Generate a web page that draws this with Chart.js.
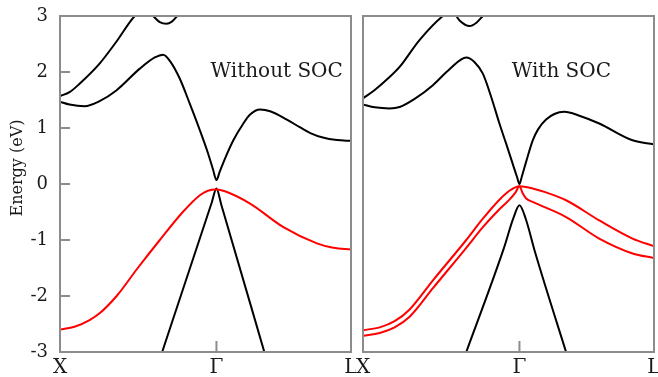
<!DOCTYPE html>
<html>
<head>
<meta charset="utf-8">
<script src="https://cdn.jsdelivr.net/npm/chart.js@4.4.1/dist/chart.umd.min.js"></script>
<style>
  body { margin: 0; background: #fff; }
  canvas { position: absolute; top: 0; }
  #chartNoSoc { left: 0; }
  #chartSoc { left: 356px; }
</style>
</head>
<body>
<canvas id="chartNoSoc" width="356" height="377"></canvas>
<canvas id="chartSoc" width="302" height="377"></canvas>
<script>
// k-path: X -> Gamma -> L
const kTickValues = [0, 1, 1.86];
const kTickLabels = ['X', 'Γ', 'L'];
const energyMin = -3;
const energyMax = 3;

// ---- Without SOC ----
const noSocCb2K = [0, 0.061, 0.125, 0.253, 0.36, 0.478, 0.542, 0.595, 0.638, 0.681, 0.715, 0.749, 0.798];
const noSocCb2E = [1.57, 1.64, 1.79, 2.15, 2.54, 3.0, 3.12, 3.0, 2.89, 2.86, 2.9, 3.0, 3.15];

const noSocCb1K = [0, 0.061, 0.157, 0.253, 0.36, 0.51, 0.606, 0.659, 0.702, 0.766, 0.83, 0.894, 0.946, 0.978, 1.0, 1.021, 1.054, 1.108, 1.172, 1.215, 1.279, 1.343, 1.45, 1.535, 1.6, 1.68, 1.77, 1.862];
const noSocCb1E = [1.47, 1.42, 1.39, 1.48, 1.67, 2.06, 2.26, 2.31, 2.2, 1.88, 1.43, 0.96, 0.55, 0.26, 0.07, 0.22, 0.45, 0.78, 1.08, 1.24, 1.33, 1.30, 1.15, 1.01, 0.91, 0.83, 0.785, 0.77];

const noSocVbRedK = [0, 0.093, 0.189, 0.253, 0.362, 0.497, 0.638, 0.785, 0.894, 0.946, 1.0, 1.054, 1.215, 1.428, 1.642, 1.747, 1.862];
const noSocVbRedE = [-2.60, -2.55, -2.43, -2.31, -2.0, -1.5, -1.0, -0.5, -0.2, -0.12, -0.10, -0.13, -0.35, -0.77, -1.06, -1.14, -1.17];

const noSocVbK = [0.55, 0.653, 0.97, 1.0, 1.03, 1.306, 1.4];
const noSocVbE = [-3.87, -3.0, -0.33, -0.08, -0.36, -3.0, -3.9];

// ---- With SOC ----
const socCb2K = [0, 0.075, 0.17, 0.234, 0.361, 0.51, 0.566, 0.617, 0.681, 0.725, 0.766, 0.808];
const socCb2E = [1.53, 1.68, 1.91, 2.09, 2.57, 3.0, 3.1, 2.92, 2.82, 2.88, 3.0, 3.12];

const socCb1K = [0, 0.075, 0.17, 0.234, 0.33, 0.445, 0.553, 0.66, 0.712, 0.766, 0.82, 0.872, 0.915, 0.957, 0.985, 1.0, 1.015, 1.043, 1.085, 1.12, 1.17, 1.223, 1.287, 1.383, 1.51, 1.723, 1.857];
const socCb1E = [1.42, 1.37, 1.35, 1.375, 1.52, 1.76, 2.05, 2.26, 2.18, 1.97, 1.55, 1.08, 0.72, 0.36, 0.12, 0.0, 0.13, 0.4, 0.78, 0.98, 1.15, 1.25, 1.29, 1.22, 1.08, 0.78, 0.71];

const socVbUpK = [0, 0.107, 0.202, 0.298, 0.447, 0.66, 0.766, 0.872, 0.936, 1.0, 1.085, 1.17, 1.298, 1.51, 1.723, 1.857];
const socVbUpE = [-2.61, -2.56, -2.45, -2.24, -1.72, -1.0, -0.62, -0.28, -0.12, -0.04, -0.08, -0.15, -0.29, -0.65, -0.975, -1.11];

const socVbLoK = [0, 0.107, 0.202, 0.298, 0.447, 0.66, 0.766, 0.872, 0.936, 0.975, 1.0, 1.02, 1.043, 1.085, 1.298, 1.51, 1.723, 1.857];
const socVbLoE = [-2.71, -2.66, -2.56, -2.37, -1.86, -1.14, -0.77, -0.45, -0.28, -0.15, -0.04, -0.16, -0.26, -0.32, -0.59, -0.975, -1.24, -1.32];

const socVbK = [0.6, 0.66, 0.9, 0.96, 1.0, 1.04, 1.1, 1.298, 1.36];
const socVbE = [-3.46, -3.0, -1.15, -0.62, -0.38, -0.62, -1.22, -3.0, -3.55];

const FONT = '"DejaVu Serif", "Liberation Serif", serif';

function band(k, e, color) {
    return {
        data: k.map((x, i) => ({x: x, y: e[i]})),
        borderColor: color,
        borderWidth: 2,
        pointRadius: 0,
        showLine: true,
        fill: false,
        cubicInterpolationMode: 'monotone'
    };
}

// frame, inward ticks and panel text
const framePlugin = {
    id: 'frame',
    afterDatasetsDraw(chart, args, opts) {
        const ctx = chart.ctx;
        const a = chart.chartArea;
        const xs = chart.scales.x, ys = chart.scales.y;
        ctx.save();
        ctx.strokeStyle = '#8c8c8c';
        ctx.lineWidth = 2;
        ctx.beginPath();
        if (opts.yTicks) {
            ys.ticks.forEach(t => {
                const y = ys.getPixelForValue(t.value);
                ctx.moveTo(a.left, y);
                ctx.lineTo(a.left + 10, y);
            });
        }
        const gx = xs.getPixelForValue(kTickValues[1]);
        ctx.moveTo(gx, a.bottom);
        ctx.lineTo(gx, a.bottom - 11);
        ctx.stroke();
        ctx.strokeRect(a.left, a.top, a.right - a.left, a.bottom - a.top);

        ctx.fillStyle = '#1a1a1a';
        ctx.font = '20px ' + FONT;
        ctx.textAlign = 'center';
        ctx.textBaseline = 'middle';
        ctx.fillText(opts.label, xs.getPixelForValue(opts.labelK), ys.getPixelForValue(opts.labelE));

        if (opts.yTitle) {
            ctx.translate(18, 168);
            ctx.rotate(-Math.PI / 2);
            ctx.font = '16px ' + FONT;
            ctx.fillText(opts.yTitle, 0, 0);
        }
        ctx.restore();
    }
};

function createChart(id, datasets, opts) {
    return new Chart(document.getElementById(id), {
        type: 'scatter',
        data: {datasets: datasets},
        plugins: [framePlugin],
        options: {
            responsive: false,
            animation: false,
            layout: {padding: {top: 16, right: opts.padRight, left: 0, bottom: 0}},
            plugins: {
                legend: {display: false},
                tooltip: {enabled: false},
                frame: opts.frame
            },
            scales: {
                x: {
                    type: 'linear',
                    min: 0,
                    max: kTickValues[2],
                    grid: {display: false, drawTicks: false},
                    border: {display: false},
                    afterBuildTicks: s => { s.ticks = kTickValues.map(v => ({value: v})); },
                    afterFit: s => { s.height = 25; s.paddingLeft = 0; s.paddingRight = 0; },
                    ticks: {
                        autoSkip: false,
                        maxRotation: 0,
                        padding: 4,
                        color: '#1a1a1a',
                        font: {family: FONT, size: 20},
                        callback: (v, i) => kTickLabels[i]
                    }
                },
                y: {
                    min: energyMin,
                    max: energyMax,
                    grid: {display: false, drawTicks: false},
                    border: {display: false},
                    afterFit: s => { s.width = opts.yWidth; s.paddingTop = 0; s.paddingBottom = 0; },
                    ticks: {
                        display: opts.yLabels,
                        stepSize: 1,
                        padding: 12,
                        color: '#1a1a1a',
                        font: {family: FONT, size: 18}
                    }
                }
            }
        }
    });
}

createChart('chartNoSoc', [
    band(noSocVbRedK, noSocVbRedE, '#ff0000'),
    band(noSocVbK, noSocVbE, '#000000'),
    band(noSocCb1K, noSocCb1E, '#000000'),
    band(noSocCb2K, noSocCb2E, '#000000')
], {
    padRight: 5, yWidth: 60, yLabels: true,
    frame: {yTicks: true, label: 'Without SOC', labelK: 1.385, labelE: 2.0, yTitle: 'Energy (eV)'}
});

createChart('chartSoc', [
    band(socVbUpK, socVbUpE, '#ff0000'),
    band(socVbLoK, socVbLoE, '#ff0000'),
    band(socVbK, socVbE, '#000000'),
    band(socCb1K, socCb1E, '#000000'),
    band(socCb2K, socCb2E, '#000000')
], {
    padRight: 4, yWidth: 7, yLabels: false,
    frame: {yTicks: false, label: 'With SOC', labelK: 1.268, labelE: 2.0, yTitle: ''}
});
</script>
</body>
</html>
